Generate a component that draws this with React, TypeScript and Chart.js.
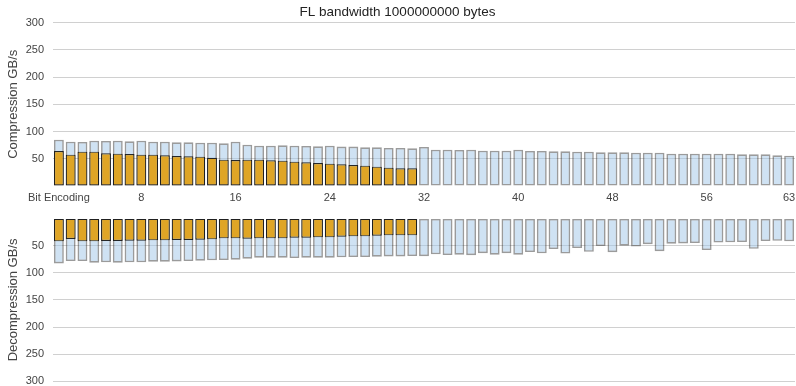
import React, { useEffect, useRef } from "react";
import { Chart, registerables } from "chart.js";

Chart.register(...registerables);

const TITLE = "FL bandwidth 1000000000 bytes";
const X_TITLE = "Bit Encoding";
const COMP_TITLE = "Compression GB/s";
const DECOMP_TITLE = "Decompression GB/s";

const bitEncodings = [
  1, 2, 3, 4, 5, 6, 7, 8, 9, 10, 11, 12, 13, 14, 15, 16, 17, 18, 19, 20, 21,
  22, 23, 24, 25, 26, 27, 28, 29, 30, 31, 32, 33, 34, 35, 36, 37, 38, 39, 40,
  41, 42, 43, 44, 45, 46, 47, 48, 49, 50, 51, 52, 53, 54, 55, 56, 57, 58, 59,
  60, 61, 62, 63,
];
const shownTicks = [8, 16, 24, 32, 40, 48, 56, 63];
const yTicks = [0, 50, 100, 150, 200, 250, 300];

// Compression, all encodings (light blue)
const compAll = [
  85.1, 81.4, 80.8, 83.3, 82.7, 83.3, 82.0, 83.3, 81.4, 81.4, 80.2, 80.2, 79.6,
  79.6, 78.4, 81.4, 75.9, 74.1, 74.1, 74.7, 74.1, 73.5, 72.9, 74.1, 72.3, 72.3,
  71.0, 71.0, 69.8, 69.8, 69.2, 71.6, 66.7, 66.7, 66.1, 66.7, 64.9, 64.9, 64.9,
  66.7, 64.3, 64.3, 63.7, 63.7, 63.1, 63.1, 61.8, 61.8, 61.8, 61.2, 61.2, 61.2,
  59.4, 59.4, 59.4, 59.4, 59.4, 59.4, 58.2, 58.2, 58.2, 56.3, 55.7,
];
// Compression, encodings 1..31 (orange)
const compLow = [
  64.3, 57.6, 63.1, 63.1, 60.0, 59.4, 58.8, 57.6, 57.6, 56.3, 55.1, 54.5, 53.9,
  52.0, 48.4, 47.8, 48.4, 48.4, 47.2, 46.5, 44.7, 43.5, 42.3, 41.0, 39.8, 38.6,
  37.4, 35.5, 33.7, 32.5, 32.5,
];
// Decompression, all encodings (light blue)
const decompAll = [
  82.8, 78.5, 78.5, 81.5, 80.9, 81.5, 80.9, 80.9, 79.7, 79.7, 79.1, 78.5, 77.8,
  77.2, 76.6, 76.0, 74.2, 72.3, 72.3, 72.3, 72.9, 72.3, 72.3, 72.3, 71.7, 71.1,
  71.1, 70.5, 69.9, 69.9, 69.2, 69.5, 66.2, 67.4, 66.8, 67.6, 64.0, 66.8, 64.0,
  66.8, 61.9, 64.3, 56.4, 64.6, 54.5, 61.5, 51.0, 62.2, 50.2, 51.8, 47.5, 60.3,
  46.5, 46.0, 45.5, 58.2, 44.5, 44.0, 43.5, 56.0, 41.7, 41.1, 42.2,
];
// Decompression, encodings 1..31 (orange)
const decompLow = [
  42.2, 37.9, 42.2, 42.2, 41.6, 41.6, 41.0, 41.0, 40.4, 40.4, 39.8, 39.8, 39.2,
  38.6, 36.7, 36.7, 37.3, 36.7, 36.7, 36.7, 35.5, 35.5, 34.9, 34.9, 33.6, 33.0,
  33.0, 31.8, 31.2, 31.2, 31.2,
];

const FONT = "'Liberation Sans', Arial, Helvetica, sans-serif";
const BLUE_FILL = "rgba(159,197,232,0.5)";
const BLUE_BORDER = "rgba(55,55,55,0.5)";
const ORANGE_FILL = "#DFA526";
const ORANGE_BORDER = "rgba(20,20,20,0.9)";
const GRID = "#d0d0d0";
const TEXT = "#444";

function makeDatasets(all: number[], low: number[]) {
  return [
    {
      label: "low",
      data: low,
      backgroundColor: ORANGE_FILL,
      borderColor: ORANGE_BORDER,
      borderWidth: 1.2,
      borderSkipped: false,
      grouped: false,
      order: 0,
      barPercentage: 0.84,
      categoryPercentage: 1,
    },
    {
      label: "all",
      data: all,
      backgroundColor: BLUE_FILL,
      borderColor: BLUE_BORDER,
      borderWidth: 1.6,
      borderSkipped: false,
      grouped: false,
      order: 1,
      barPercentage: 0.84,
      categoryPercentage: 1,
    },
  ];
}

function yScale(title: string, reverse: boolean) {
  return {
    type: "linear",
    min: yTicks[0],
    max: yTicks[yTicks.length - 1],
    reverse,
    afterBuildTicks: (s: any) => {
      s.ticks = yTicks.map((v) => ({ value: v }));
    },
    afterFit: (s: any) => {
      s.width = 53;
      s.paddingTop = 0;
      s.paddingBottom = 0;
    },
    border: { display: false },
    grid: {
      drawTicks: false,
      color: (ctx: any) =>
        ctx.tick && ctx.tick.value === 0 ? "rgba(0,0,0,0)" : GRID,
      lineWidth: 1,
    },
    ticks: {
      padding: 9,
      color: TEXT,
      font: { family: FONT, size: 11 },
      callback: (v: any) => (v === 0 ? "" : String(v)),
    },
    title: {
      display: true,
      text: title,
      color: TEXT,
      font: { family: FONT, size: 13 },
      padding: { top: 5.5, bottom: 0 },
    },
  };
}

function TopChart() {
  const ref = useRef<HTMLCanvasElement>(null);
  useEffect(() => {
    const chart = new Chart(ref.current!, {
      type: "bar",
      data: { labels: bitEncodings, datasets: makeDatasets(compAll, compLow) as any },
      options: {
        animation: false,
        responsive: true,
        maintainAspectRatio: false,
        layout: { padding: { left: 0, right: 1, top: 0, bottom: 0 } },
        plugins: {
          legend: { display: false },
          tooltip: { enabled: false },
          title: {
            display: true,
            text: TITLE,
            color: "#222",
            font: { family: FONT, size: 13.5, weight: "normal" },
            padding: { top: 4.5, bottom: 1.9 },
          },
        },
        scales: {
          x: {
            type: "category",
            afterFit: (s: any) => {
              s.height = 20;
              s.paddingLeft = 0;
              s.paddingRight = 0;
            },
            border: { display: false },
            grid: { display: false, drawTicks: false },
            ticks: {
              autoSkip: false,
              maxRotation: 0,
              minRotation: 0,
              padding: 5,
              color: TEXT,
              font: { family: FONT, size: 11 },
              callback: (_v: any, i: number) => {
                const b = bitEncodings[i];
                if (i === 0) return X_TITLE;
                return shownTicks.includes(b) ? String(b) : "";
              },
            },
          },
          y: yScale(COMP_TITLE, false) as any,
        },
      },
    });
    return () => chart.destroy();
  }, []);
  return <canvas ref={ref} />;
}

function BottomChart() {
  const ref = useRef<HTMLCanvasElement>(null);
  useEffect(() => {
    const chart = new Chart(ref.current!, {
      type: "bar",
      data: { labels: bitEncodings, datasets: makeDatasets(decompAll, decompLow) as any },
      options: {
        animation: false,
        responsive: true,
        maintainAspectRatio: false,
        layout: { padding: { left: 0, right: 1, top: 13.4, bottom: 4.6 } },
        plugins: {
          legend: { display: false },
          tooltip: { enabled: false },
          title: { display: false },
        },
        scales: {
          x: {
            type: "category",
            display: false,
            grid: { display: false },
          },
          y: yScale(DECOMP_TITLE, true) as any,
        },
      },
    });
    return () => chart.destroy();
  }, []);
  return <canvas ref={ref} />;
}

export default function App() {
  return (
    <div
      style={{
        position: "fixed",
        left: 0,
        top: 0,
        width: 796,
        height: 386,
        overflow: "hidden",
        background: "#fff",
      }}
    >
      <div style={{ position: "absolute", left: 0, top: 0, width: 796, height: 206 }}>
        <TopChart />
      </div>
      <div style={{ position: "absolute", left: 0, top: 205, width: 796, height: 181 }}>
        <BottomChart />
      </div>
    </div>
  );
}
